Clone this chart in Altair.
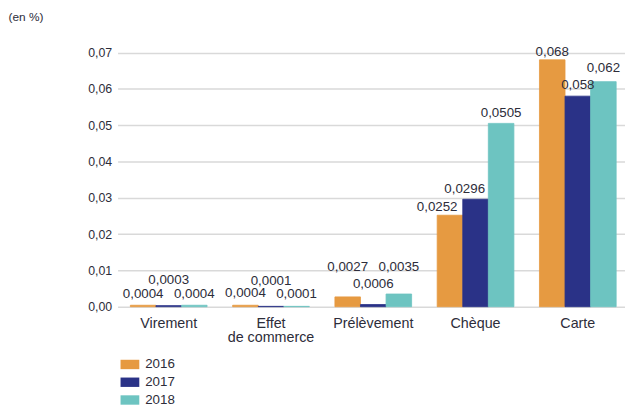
import altair as alt
import pandas as pd

categories = ["Virement", "Effet de commerce", "Prélèvement", "Chèque", "Carte"]
years = ["2016", "2017", "2018"]
v2016 = [0.0004, 0.0004, 0.0027, 0.0252, 0.068]
v2017 = [0.0003, 0.0001, 0.0006, 0.0296, 0.058]
v2018 = [0.0004, 0.0001, 0.0035, 0.0505, 0.062]
y_ticks = [0.0, 0.01, 0.02, 0.03, 0.04, 0.05, 0.06, 0.07]
colors = ["#E69A41", "#2A3287", "#6DC4C1"]

rows = []
for yr, vals in zip(years, [v2016, v2017, v2018]):
    for c, v in zip(categories, vals):
        rows.append({"cat": c, "year": yr, "value": v,
                     "label": f"{v}".replace(".", ","), "key": f"{c}|{yr}"})
df = pd.DataFrame(rows)

FONT = "Liberation Sans"
TXT = "#2d2d3a"

# label placement offsets (pixels) to avoid overlaps, as in the original
placement = {
    "Virement|2017": (0, -22),
    "Effet de commerce|2017": (0, -22),
    "Virement|2016": (0, -7), "Virement|2018": (0, -7),
    "Effet de commerce|2016": (0, -8), "Effet de commerce|2018": (0, -8),
    "Prélèvement|2016": (0, -26),
    "Prélèvement|2018": (0, -23),
    "Prélèvement|2017": (0, -17),
    "Chèque|2016": (-13, -4),
    "Chèque|2017": (-11, -6),
    "Carte|2016": (0, -4),
    "Carte|2017": (0, -7),
    "Carte|2018": (0, -10),
}
default_off = (0, -6)

x_enc = alt.X("cat:N", sort=categories,
              scale=alt.Scale(paddingInner=0.25, paddingOuter=0.125),
              axis=alt.Axis(title=None, labelAngle=0, domain=False, ticks=False,
                            labelFontSize=14.5, labelColor=TXT, labelPadding=10,
                            labelLineHeight=14.5, labelBaseline="top",
                            labelExpr="datum.label == 'Effet de commerce' ? ['Effet', 'de commerce'] : datum.label"))
xo_enc = alt.XOffset("year:N", sort=years)
y_enc = alt.Y("value:Q", scale=alt.Scale(domain=[0, 0.0775], nice=False),
              axis=alt.Axis(values=y_ticks, title="(en %)", titleAngle=0,
                            titleAlign="left", titleBaseline="middle",
                            titleX=-111, titleY=-9, titleFontSize=12,
                            titleFontWeight="normal", titleColor=TXT,
                            domain=False, ticks=False, labelPadding=6,
                            labelFontSize=12.5, labelColor=TXT,
                            gridColor="#d9d9d9", gridWidth=1.5,
                            labelExpr="replace(format(datum.value, '.2f'), '.', ',')"))

base = alt.Chart(df).encode(x=x_enc, xOffset=xo_enc, y=y_enc)

color_scale = alt.Scale(domain=years, range=colors)
bars = base.mark_bar(strokeWidth=0.8).encode(
    color=alt.Color("year:N", scale=color_scale,
                    legend=alt.Legend(orient="none", legendX=3, legendY=334,
                                      title=None, direction="vertical",
                                      symbolType="M-1,-0.5H1V0.5H-1Z",
                                      symbolSize=361, symbolStrokeWidth=0,
                                      labelFontSize=13.5, labelColor=TXT,
                                      labelOffset=6, rowPadding=2, padding=0)),
    stroke=alt.Stroke("year:N", scale=color_scale, legend=None),
)

groups = {}
for k in df["key"]:
    off = placement.get(k, default_off)
    groups.setdefault(off, []).append(k)

layers = [bars]
for (dx, dy), keys in groups.items():
    layers.append(
        base.transform_filter(alt.FieldOneOfPredicate(field="key", oneOf=keys))
        .mark_text(dx=dx, dy=dy, baseline="alphabetic", align="center",
                   fontSize=13.5, color=TXT)
        .encode(text="label:N")
    )

chart = alt.layer(*layers).properties(
    width=518, height=285,
    autosize=alt.AutoSizeParams(type="none"),
    padding={"left": 111, "top": 15, "right": -4, "bottom": 99},
).configure(font=FONT).configure_view(stroke=None)

chart.save("out.html", embed_options={"renderer": "svg", "actions": False})
